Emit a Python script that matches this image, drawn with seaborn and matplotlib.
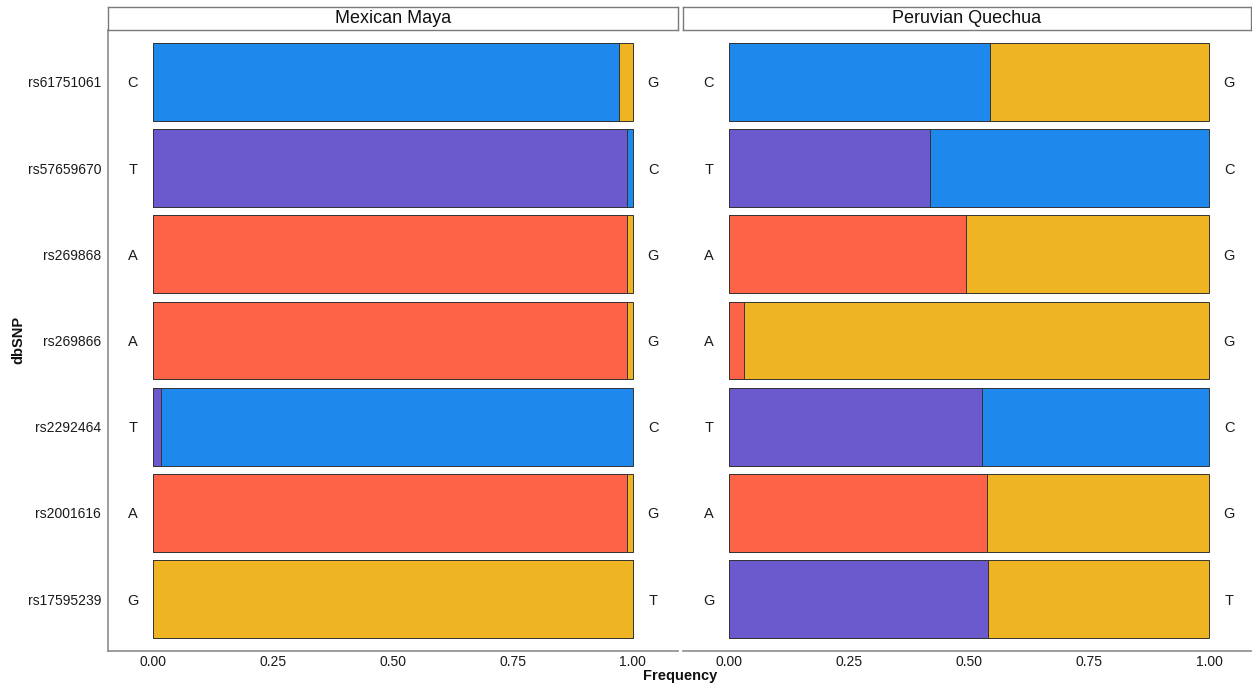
import matplotlib
matplotlib.use("Agg")
import matplotlib.pyplot as plt
import seaborn as sns
import pandas as pd

# SNPs (top to bottom) and their two alleles
snps = ["rs61751061", "rs57659670", "rs269868", "rs269866",
        "rs2292464", "rs2001616", "rs17595239"]
allele_left = ["C", "T", "A", "A", "T", "A", "G"]
allele_right = ["G", "C", "G", "G", "C", "G", "T"]

populations = ["Mexican Maya", "Peruvian Quechua"]

# Frequency of the first (left) segment and the fill allele of each segment
maya_first_freq = [0.971, 0.987, 0.987, 0.987, 0.016, 0.987, 1.0]
maya_first_fill = ["C", "T", "A", "A", "T", "A", "G"]
maya_second_fill = ["G", "C", "G", "G", "C", "G", "G"]

quechua_first_freq = [0.543, 0.419, 0.494, 0.032, 0.527, 0.537, 0.540]
quechua_first_fill = ["C", "T", "A", "A", "T", "A", "T"]
quechua_second_fill = ["G", "C", "G", "G", "C", "G", "G"]

palette = {"C": "#1E88EC", "T": "#6A5ACD", "A": "#FF6347", "G": "#EEB422"}

panel_data = {
    "Mexican Maya": (maya_first_freq, maya_first_fill, maya_second_fill),
    "Peruvian Quechua": (quechua_first_freq, quechua_first_fill, quechua_second_fill),
}

sns.set_theme(style="white")
plt.rcParams["font.family"] = ["Liberation Sans", "DejaVu Sans"]

W, H = 1252, 688
fig = plt.figure(figsize=(W / 100, H / 100), dpi=100)

panel_px = [(108, 678), (683, 1251)]
panel_xlim = [(-0.094, 1.094), (-0.096, 1.0875)]
top_px, bottom_px, strip_top_px = 30, 651, 7
spine_col = "#8c8c8c"

for idx, (pop, (x0, x1)) in enumerate(zip(populations, panel_px)):
    first_freq, first_fill, second_fill = panel_data[pop]
    ax = fig.add_axes([x0 / W, (H - bottom_px) / H, (x1 - x0) / W, (bottom_px - top_px) / H])

    full = pd.DataFrame({"snp": snps, "freq": [1.0] * len(snps), "fill": second_fill})
    first = pd.DataFrame({"snp": snps, "freq": first_freq, "fill": first_fill})

    common = dict(y="snp", x="freq", hue="fill", palette=palette, order=snps,
                  hue_order=list(palette), dodge=False, width=0.9, orient="h",
                  edgecolor="#333333", linewidth=0.7, legend=False, ax=ax,
                  saturation=1)
    sns.barplot(data=full, **common)
    sns.barplot(data=first, **common)

    for i, (a, b) in enumerate(zip(allele_left, allele_right)):
        ax.text(-0.042, i, a, ha="center", va="center_baseline", fontsize=10.5, color="#1a1a1a")
        ax.text(1.042, i, b, ha="center", va="center_baseline", fontsize=10.5, color="#1a1a1a")

    ax.set_xlim(*panel_xlim[idx])
    ax.set_ylim(len(snps) - 0.4, -0.6)
    ax.set_xticks([0, 0.25, 0.5, 0.75, 1.0])
    ax.set_xticklabels(["0.00", "0.25", "0.50", "0.75", "1.00"])
    ax.set_xlabel("")
    ax.set_ylabel("")
    ax.tick_params(axis="x", length=2, color=spine_col, labelsize=10, labelcolor="#1a1a1a", pad=1)
    for side in ["top", "right"]:
        ax.spines[side].set_visible(False)
    ax.spines["bottom"].set_color(spine_col)
    ax.spines["bottom"].set_linewidth(1.2)
    if idx == 0:
        ax.spines["left"].set_color(spine_col)
        ax.spines["left"].set_linewidth(1.2)
        ax.tick_params(axis="y", length=3, color=spine_col, labelsize=10, labelcolor="#1a1a1a", pad=2)
    else:
        ax.spines["left"].set_visible(False)
        ax.set_yticks([])

    # facet strip
    sax = fig.add_axes([x0 / W, (H - top_px) / H, (x1 - x0) / W, (top_px - strip_top_px) / H])
    sax.set_xticks([])
    sax.set_yticks([])
    sax.set_facecolor("white")
    for s in sax.spines.values():
        s.set_color("#7a7a7a")
        s.set_linewidth(1.0)
    sax.text(0.5, 0.5, pop, ha="center", va="center", fontsize=13, color="#111111",
             transform=sax.transAxes)

fig.text(18 / W, 1 - 340 / H, "dbSNP", rotation=90, ha="center", va="center",
         fontsize=10.5, fontweight="bold", color="#111111")
fig.text(680 / W, 1 - 676 / H, "Frequency", ha="center", va="center",
         fontsize=10.5, fontweight="bold", color="#111111")

fig.savefig("out.png", dpi=100, facecolor="white")
